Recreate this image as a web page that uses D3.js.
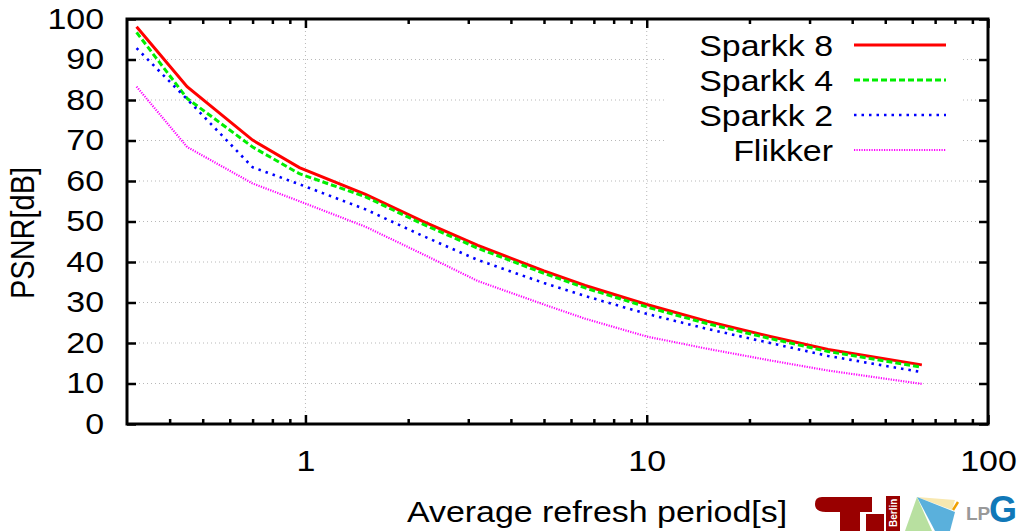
<!DOCTYPE html>
<html>
<head>
<meta charset="utf-8">
<script src="https://cdn.jsdelivr.net/npm/d3@7"></script>
<style>
  html, body { margin: 0; padding: 0; background: #fff; }
  svg { display: block; font-family: "Liberation Sans", Arial, sans-serif; }
</style>
</head>
<body>
<svg id="chart" width="1024" height="531"></svg>
<script>
// refresh period [s] and PSNR [dB]
const periods = [0.32, 0.45, 0.7, 0.96, 1.5, 2.2, 3.2, 5, 6.6, 10, 15, 23, 34, 64];
const sparkk8 = [98.1, 83.3, 70.1, 63.3, 56.7, 50.1, 44.1, 37.8, 34.2, 29.5, 25.4, 21.6, 18.4, 14.6];
const sparkk4 = [96.7, 80.4, 68.4, 61.8, 56.1, 49.4, 43.4, 37.2, 33.6, 28.9, 24.8, 21.1, 17.9, 14.0];
const sparkk2 = [92.8, 80.2, 63.4, 59.2, 53.0, 46.5, 40.5, 34.8, 31.6, 27.2, 23.5, 20.0, 16.8, 12.8];
const flikker = [83.3, 68.4, 59.4, 55.0, 48.7, 42.0, 35.3, 29.5, 26.0, 21.6, 18.6, 15.7, 13.2, 9.9];

const seriesNames = ['Sparkk 8', 'Sparkk 4', 'Sparkk 2', 'Flikker'];
const xMajor = [1, 10, 100];
const xMinor = [0.4, 0.5, 0.6, 0.7, 0.8, 0.9, 2, 3, 4, 5, 6, 7, 8, 9, 20, 30, 40, 50, 60, 70, 80, 90];
const yTicks = [0, 10, 20, 30, 40, 50, 60, 70, 80, 90, 100];

const styles = [
  { color: '#ff0000', width: 3, dash: null },
  { color: '#00ee00', width: 3, dash: '6,3' },
  { color: '#0000ff', width: 2.6, dash: '2.5,5' },
  { color: '#ff00ff', width: 2.2, dash: '1.2,1.3' }
];

const svg = d3.select('#chart');
const sx = 1.17; // the original figure is stretched sideways
const plot = { left: 127, right: 988, top: 19, bottom: 424 };

const x = d3.scaleLog().domain([0.3, 100]).range([plot.left, plot.right]);
const y = d3.scaleLinear().domain([0, 100]).range([plot.bottom, plot.top]);

const data = [sparkk8, sparkk4, sparkk2, flikker].map((vals, i) => ({
  name: seriesNames[i],
  values: periods.map((p, j) => ({ p, v: vals[j] }))
}));

// grid
const grid = svg.append('g')
  .attr('stroke', '#b8b8b8')
  .attr('stroke-width', 1)
  .attr('stroke-dasharray', '1,3');
grid.selectAll('.hg')
  .data(yTicks.slice(1, -1))
  .enter().append('line')
  .attr('x1', plot.left).attr('x2', plot.right)
  .attr('y1', d => y(d)).attr('y2', d => y(d));
grid.selectAll('.vg')
  .data(xMajor.slice(0, -1))
  .enter().append('line')
  .attr('y1', plot.top).attr('y2', plot.bottom)
  .attr('x1', d => x(d)).attr('x2', d => x(d));

// legend background hides grid
svg.append('rect')
  .attr('x', 664).attr('y', 22)
  .attr('width', 298).attr('height', 143)
  .attr('fill', '#fff');

// curves
const line = d3.line()
  .x(d => x(d.p))
  .y(d => y(d.v));

svg.selectAll('.series')
  .data(data)
  .enter()
  .append('path')
  .attr('fill', 'none')
  .attr('d', d => line(d.values))
  .attr('stroke', (d, i) => styles[i].color)
  .attr('stroke-width', (d, i) => styles[i].width)
  .attr('stroke-dasharray', (d, i) => styles[i].dash);

// axes with inward ticks
const fontSize = 29;
function stretchTexts(g) {
  g.selectAll('text').each(function () {
    const t = d3.select(this);
    const tx = +t.attr('x') || 0;
    const ty = +t.attr('y') || 0;
    t.attr('x', 0).attr('y', 0)
      .attr('transform', `translate(${tx},${ty}) scale(${sx},1)`);
  });
}

const yAxis = svg.append('g')
  .attr('transform', `translate(${plot.left},0)`)
  .call(d3.axisLeft(y).tickValues(yTicks).tickSize(-9).tickPadding(23));
yAxis.select('.domain').remove();
yAxis.selectAll('text').attr('font-size', fontSize).attr('fill', '#000');
stretchTexts(yAxis);

const yAxisR = svg.append('g')
  .attr('transform', `translate(${plot.right},0)`)
  .call(d3.axisRight(y).tickValues(yTicks).tickSize(-9).tickFormat(''));
yAxisR.select('.domain').remove();

const xAxis = svg.append('g')
  .attr('transform', `translate(0,${plot.bottom})`)
  .call(d3.axisBottom(x).tickValues(xMajor).tickSize(-9).tickPadding(26).tickFormat(d3.format('d')));
xAxis.select('.domain').remove();
xAxis.selectAll('text').attr('font-size', fontSize).attr('fill', '#000');
stretchTexts(xAxis);

svg.append('g')
  .attr('transform', `translate(0,${plot.bottom})`)
  .call(d3.axisBottom(x).tickValues(xMinor).tickSize(-5).tickFormat(''))
  .select('.domain').remove();

svg.append('g')
  .attr('transform', `translate(0,${plot.top})`)
  .call(d3.axisTop(x).tickValues(xMajor).tickSize(-9).tickFormat(''))
  .select('.domain').remove();

svg.append('g')
  .attr('transform', `translate(0,${plot.top})`)
  .call(d3.axisTop(x).tickValues(xMinor).tickSize(-5).tickFormat(''))
  .select('.domain').remove();

svg.selectAll('.tick line').attr('stroke', '#000').attr('stroke-width', 2.5);
svg.selectAll('.tick text').attr('font-family', '"Liberation Sans", Arial, sans-serif');

// frame
svg.append('rect')
  .attr('x', plot.left).attr('y', plot.top)
  .attr('width', plot.right - plot.left).attr('height', plot.bottom - plot.top)
  .attr('fill', 'none')
  .attr('stroke', '#000')
  .attr('stroke-width', 3);

// axis titles
svg.append('text')
  .attr('transform', `translate(597,522) scale(${sx},1)`)
  .attr('text-anchor', 'middle')
  .attr('font-size', fontSize)
  .text('Average refresh period[s]');

svg.append('text')
  .attr('transform', `translate(34,233) scale(${sx},1) rotate(-90)`)
  .attr('text-anchor', 'middle')
  .attr('font-size', fontSize)
  .text('PSNR[dB]');

// legend
const legend = svg.append('g');
data.forEach((d, i) => {
  const ly = 45 + i * 35;
  legend.append('text')
    .attr('transform', `translate(833,${ly + 11}) scale(${sx},1)`)
    .attr('text-anchor', 'end')
    .attr('font-size', fontSize)
    .text(d.name);
  legend.append('line')
    .attr('x1', 854).attr('x2', 946)
    .attr('y1', ly).attr('y2', ly)
    .attr('stroke', styles[i].color)
    .attr('stroke-width', styles[i].width)
    .attr('stroke-dasharray', styles[i].dash);
});

// logos in the corner (rough)
const logo = svg.append('g');
logo.append('path')
  .attr('d', 'M822,497 H872 V512 H860 V531 H840 V512 H826 Q815,512 815,504 Q815,497 822,497 Z')
  .attr('fill', '#990000');
logo.append('path')
  .attr('d', 'M866,514 H884 V531 H866 Z')
  .attr('fill', '#990000');
logo.append('rect')
  .attr('x', 886).attr('y', 496).attr('width', 14).attr('height', 35)
  .attr('fill', '#990000');
logo.append('text')
  .attr('transform', 'translate(897,527) rotate(-90)')
  .attr('font-size', 10)
  .attr('font-weight', 'bold')
  .attr('fill', '#fff')
  .text('Berlin');
logo.append('path')
  .attr('d', 'M917,497 L955,500 L952,510 Z')
  .attr('fill', '#f8e8b0');
logo.append('path')
  .attr('d', 'M917,497 L955,512 L950,531 L935,531 Z')
  .attr('fill', '#5ab0dc');
logo.append('path')
  .attr('d', 'M917,497 L932,531 L905,531 Z')
  .attr('fill', '#b8e0a0');
logo.append('path')
  .attr('d', 'M953,510 L958,502')
  .attr('stroke', '#f0a000')
  .attr('stroke-width', 2.5);
logo.append('text')
  .attr('x', 966).attr('y', 520)
  .attr('font-size', 19)
  .attr('font-weight', 'bold')
  .attr('fill', '#999')
  .text('LP');
logo.append('text')
  .attr('x', 989).attr('y', 522)
  .attr('font-size', 36)
  .attr('font-weight', 'bold')
  .attr('fill', '#1078b8')
  .text('G');
</script>
</body>
</html>
